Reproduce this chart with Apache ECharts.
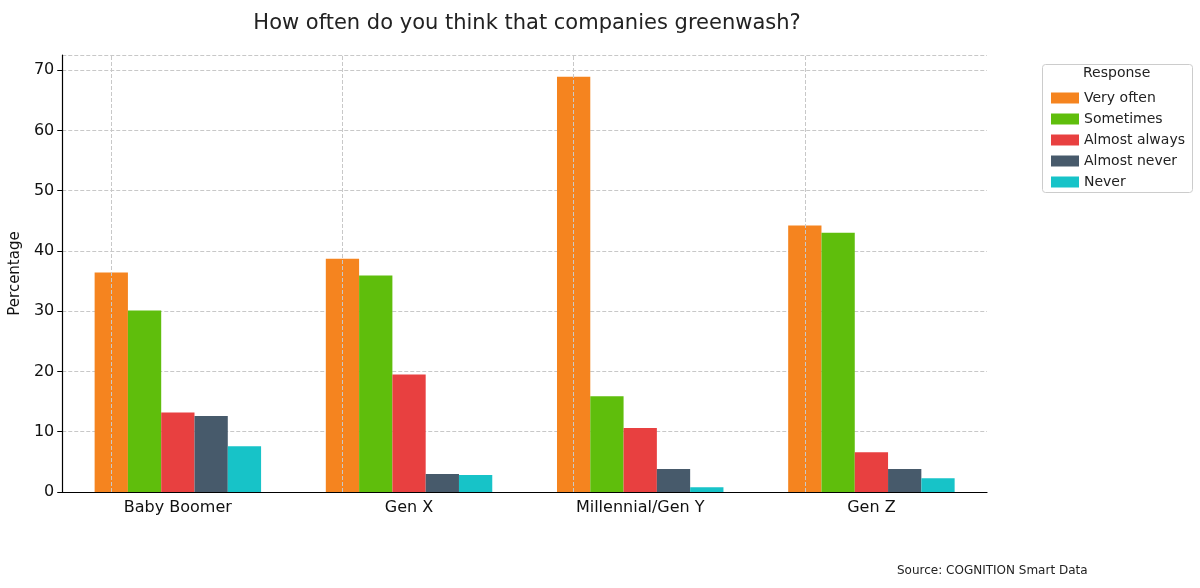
<!DOCTYPE html>
<html><head><meta charset="utf-8">
<script src="https://cdn.jsdelivr.net/npm/echarts@6/dist/echarts.min.js"></script>
<style>html,body{margin:0;padding:0;background:#fff}#c{width:1200px;height:588px}</style>
</head><body><div id="c"></div>
<script>
// data
var categories = ['Baby Boomer', 'Gen X', 'Millennial/Gen Y', 'Gen Z']
var responses = ['Very often', 'Sometimes', 'Almost always', 'Almost never', 'Never']
var veryOften = [36.4, 38.7, 68.9, 44.2]
var sometimes = [30.1, 35.9, 15.9, 43.0]
var almostAlways = [13.2, 19.5, 10.6, 6.6]
var almostNever = [12.6, 3.0, 3.8, 3.8]
var never = [7.6, 2.8, 0.8, 2.3]
var colors = ['#F5841F', '#5FBE0C', '#E84040', '#475A6B', '#17C3C8']

var values = [veryOften, sometimes, almostAlways, almostNever, never]
var series = []
for (let i = 0; i < responses.length; i++) {
	let s = {
		name: responses[i],
		type: 'bar',
		data: values[i],
		barGap: '0%',
		barCategoryGap: '28%',
		itemStyle: { color: colors[i] },
	}
	// vertical grid lines at category centers, like matplotlib
	if (i === 0) {
		s.markLine = {
			silent: true,
			symbol: 'none',
			label: { show: false },
			lineStyle: { color: '#c8c8c8', type: 'dashed', width: 1 },
			data: categories.map((c) => ({ xAxis: c })),
		}
	}
	series.push(s)
}

var chart = echarts.init(document.getElementById('c'))
chart.setOption({
	animation: false,
	textStyle: { fontFamily: 'DejaVu Sans' },
	title: {
		text: 'How often do you think that companies greenwash?',
		left: 522,
		textAlign: 'center',
		top: 8,
		textStyle: { fontSize: 21, fontWeight: 'normal', color: '#222' },
	},
	grid: { left: 58, right: 213, top: 55, bottom: 96 },
	xAxis: {
		type: 'category',
		data: categories,
		axisLine: { lineStyle: { color: '#000', width: 1.2 } },
		axisTick: { alignWithLabel: true, length: 5, lineStyle: { color: '#000' } },
		axisLabel: { fontSize: 16, color: '#111', margin: 8 },
		splitLine: { show: false },
	},
	yAxis: {
		type: 'value',
		min: 0,
		max: 72.5,
		interval: 10,
		name: 'Percentage',
		nameLocation: 'middle',
		nameGap: 32,
		nameTextStyle: { fontSize: 15, color: '#111' },
		axisLine: { show: true, lineStyle: { color: '#000', width: 1.2 } },
		axisTick: { show: true, length: 5, lineStyle: { color: '#000' } },
		axisLabel: { fontSize: 16, color: '#111', showMaxLabel: false },
		splitLine: { lineStyle: { color: '#c8c8c8', type: 'dashed' } },
	},
	legend: {
		data: responses,
		orient: 'vertical',
		left: 1046,
		top: 86,
		itemWidth: 28,
		itemHeight: 11,
		itemGap: 7,
		icon: 'rect',
		textStyle: { fontSize: 14, color: '#222' },
	},
	graphic: [
		{ type: 'rect', left: 1040, top: 62, shape: { width: 150, height: 128, r: 3 }, style: { fill: 'none', stroke: '#ccc' } },
		{ type: 'text', left: 1083, top: 66, style: { text: 'Response', font: '14px DejaVu Sans', fill: '#222' } },
		{ type: 'text', left: 897, top: 565, style: { text: 'Source: COGNITION Smart Data', font: '12px DejaVu Sans', fill: '#222' } },
	],
	series: series,
})
</script></body></html>
